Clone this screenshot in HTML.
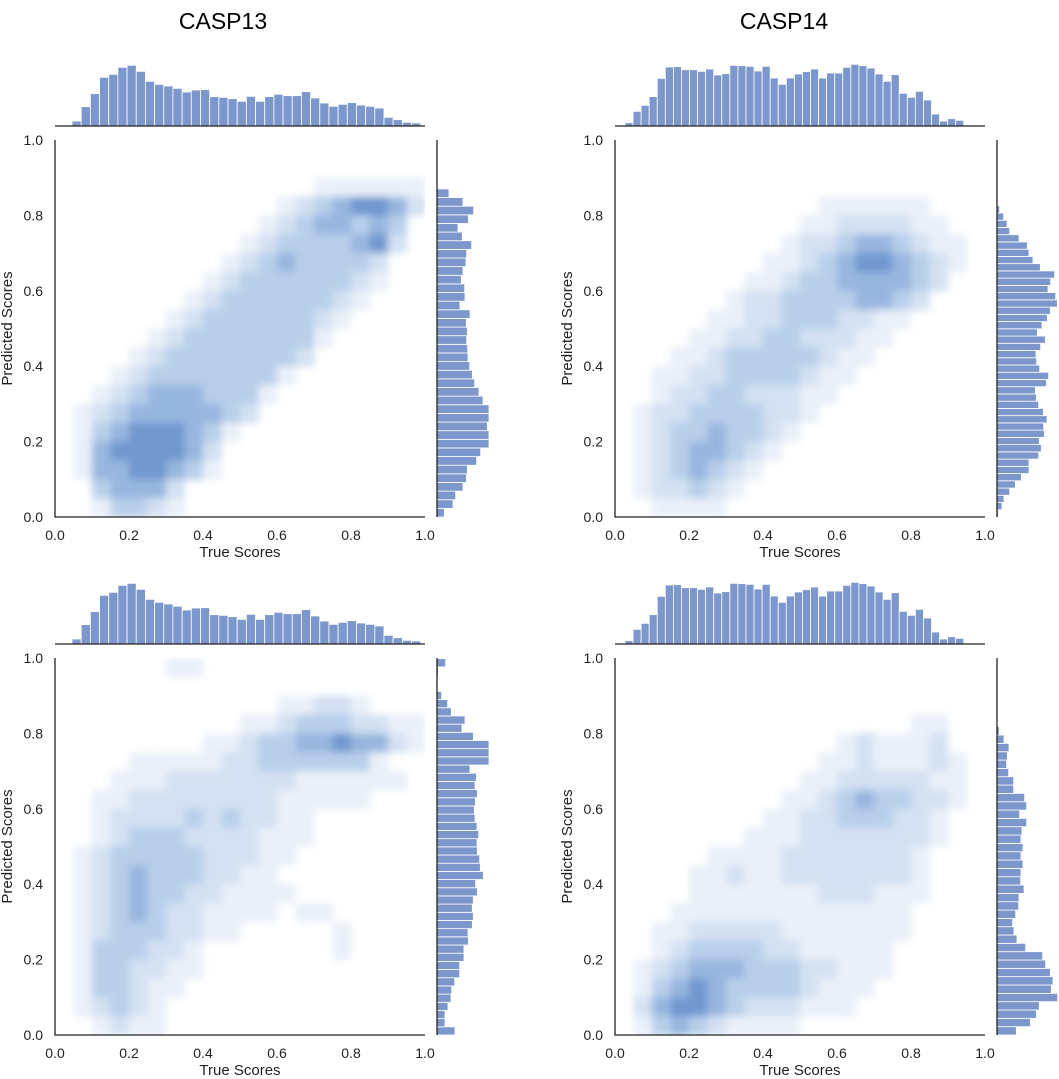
<!DOCTYPE html>
<html><head><meta charset="utf-8">
<style>
html,body{margin:0;padding:0;background:#fff;}
svg{display:block;font-family:"Liberation Sans",sans-serif;}
</style></head>
<body>
<svg id="chart" width="1059" height="1079" viewBox="0 0 1059 1079">
<defs>
<filter id="soft" x="-5%" y="-5%" width="110%" height="110%"><feGaussianBlur stdDeviation="4"/></filter>
</defs>
<text x="223" y="29" font-size="23" text-anchor="middle">CASP13</text>
<text x="784" y="29" font-size="23" text-anchor="middle">CASP14</text>
</svg>
<script>
// ---- density grids (rows from top y=0.95..1.0 down to 0..0.05; 20 columns x=0..1) ----
const densityA = [
"00000000000000000000","00000000000000000000","00000000000000111111","00000000000012345542",
"00000000000123443430","00000000001233334520","00000000012343333200","00000000123333332100",
"00000001233333321000","00000012333333210000","00000123333333100000","00001233333332000000",
"00012333333310000000","00123444333100000000","01234444432000000000","01345554310000000000",
"01455554200000000000","01445543100000000000","00344420000000000000","00133210000000000000"];
const densityB = [
"00000000000000000000","00000000000000000000","00000000000000000000","00000000000111111000",
"00000000001122221100","00000000012234432110","00000000112345543210","00000001123344443200",
"00000012233334432000","00000112233322110000","00001122332221100000","00011233333211000000",
"00112233332110000000","00122332221100000000","01223333221000000000","01233433210000000000",
"01234432100000000000","01234321000000000000","01223210000000000000","00111100000000000000"];
const densityC = [
"00000011000000000000","00000000000000000000","00000000000011221000","00000000001123332211",
"00000000112334454421","00001111122333333100","00011122222221111110","00112222222211111000",
"00122223232211000000","00123332222111000000","01233333222110000000","01234333221100000000",
"01234332211110000000","01234322111101100000","01233322110000010000","01333221000000010000",
"01332211000000000000","01332110000000000000","01232100000000000000","00121100000000000000"];
const densityD = [
"00000000000000000000","00000000000000000000","00000000000000000000","00000000000000001100",
"00000000000012111200","00000000000112111210","00000000001122222110","00000000011234332210",
"00000000112233322100","00000001112222222100","00000111122222221000","00001121122222221000",
"00001111111222111000","00011111111111110000","00112222211111110000","00123333221111100000",
"01234443332211100000","01345433332111000000","02455432221110000000","01343211110000000000"];

// ---- top marginal histograms (true scores) ----
const topCountsA = [15,58,97,146,155,176,182,164,134,125,120,113,102,108,109,88,86,82,74,89,74,88,95,91,91,103,84,69,59,65,70,63,59,54,26,19,11,9];
const topStartA = 0.046, topWidthA = 0.0248;
const topCountsB = [10,44,62,88,143,177,178,169,169,164,171,153,157,182,181,179,165,179,144,125,144,156,163,171,144,159,159,176,185,181,174,156,134,154,98,86,104,78,36,15,22,17];
const topStartB = 0.027, topWidthB = 0.0218;

// ---- right marginal histograms (predicted scores), listed bottom-to-top ----
const rightCountsA = [36,78,110,94,63,76,104,89,87,78,73,83,84,69,99,88,91,89,92,93,98,106,113,126,138,156,156,151,156,156,131,119,91,88,78,56,48,22].reverse();
const rightWidthA = 0.0229;
const rightCountsB = [8,20,30,38,66,91,96,108,130,173,161,153,176,181,160,151,135,121,145,131,117,119,128,155,148,115,118,125,139,150,140,142,127,133,125,96,96,73,55,38,21,15,4].reverse();
const rightWidthB = 0.0192;
const rightCountsC = [26,4,0,0,14,32,43,84,75,109,156,156,156,99,118,114,121,115,112,114,120,125,120,121,128,130,139,116,121,109,106,109,106,93,94,81,81,68,68,53,44,42,33,24,24,54].reverse();
const rightWidthC = 0.0217;
const rightCountsD = [7,21,36,31,29,35,50,50,83,89,68,89,75,72,78,72,78,72,71,81,66,65,56,47,51,60,86,137,146,160,168,163,182,127,118,100,58].reverse();
const rightWidthD = 0.0221;

const tickValues = [0, 0.2, 0.4, 0.6, 0.8, 1.0];
const tickLabels = ["0.0","0.2","0.4","0.6","0.8","1.0"];

const NS = "http://www.w3.org/2000/svg";
const svg = document.getElementById("chart");
const levelColors = ["#ffffff","#e9f0f9","#d3e1f2","#b8cfea","#97b6df","#6f98cf","#4a78bb"];
const BAR = "#7b97cb";

function mk(tag, attrs, parent){
  const e = document.createElementNS(NS, tag);
  for (const k in attrs) e.setAttribute(k, attrs[k]);
  (parent||svg).appendChild(e);
  return e;
}

function panel(id, ox, oy, density, topCounts, topStart, topWidth, rightCounts, rightWidth, ylabX){
  const W = 370, H = 377;
  const xs = v => ox + v*W;
  const ys = v => oy + H - v*H;
  const g = mk("g", {});
  
  

  // clip
  const cp = mk("clipPath", {id: id+"-clip"}, g);
  mk("rect", {x: ox, y: oy, width: W, height: H}, cp);

  // density heatmap
  const hg = mk("g", {"clip-path": "url(#"+id+"-clip)", filter: "url(#soft)"}, g);
  
  
  const nr = density.length;
  for (let r = 0; r < nr; r++){
    const row = density[r];
    for (let c = 0; c < row.length; c++){
      const lv = +row[c];
      if (!lv) continue;
      const y1 = 1 - r/nr, y0 = 1 - (r+1)/nr;
      const x0 = c/row.length, x1 = (c+1)/row.length;
      const cell = mk("rect", {x: xs(x0), y: ys(y1), width: xs(x1)-xs(x0)+0.5, height: ys(y0)-ys(y1)+0.5, fill: levelColors[lv]}, hg);
      
      
    }
  }

  // axes spines
  const sp = mk("path", {d: "M"+ox+" "+oy+" V"+(oy+H)+" H"+(ox+W), stroke: "#222", "stroke-width": 1.3, fill: "none"}, g);
  
  

  // ticks
  for (let i = 0; i < tickValues.length; i++){
    const t = tickValues[i];
    const xl = mk("text", {x: xs(t), y: oy+H+23, "font-size": 14, "text-anchor": "middle", fill: "#222"}, g);
    xl.textContent = tickLabels[i];
    
    
    const yl = mk("text", {x: ox-12, y: ys(t)+5, "font-size": 14, "text-anchor": "end", fill: "#222"}, g);
    yl.textContent = tickLabels[i];
    
    
  }
  const xt = mk("text", {x: ox+W/2, y: oy+H+40, "font-size": 15, "text-anchor": "middle", fill: "#222"}, g);
  xt.textContent = "True Scores";
  
  
  const yt = mk("text", {x: ylabX, y: oy+H/2, "font-size": 15, "text-anchor": "middle", fill: "#222", transform: "rotate(-90 "+ylabX+" "+(oy+H/2)+")"}, g);
  yt.textContent = "Predicted Scores";
  
  

  // top marginal histogram
  const base = oy - 14;
  const tg = mk("g", {}, g);
  
  
  for (let i = 0; i < topCounts.length; i++){
    const x0 = xs(topStart + i*topWidth), x1 = xs(topStart + (i+1)*topWidth);
    const h = topCounts[i]/3;
    const b = mk("rect", {x: x0, y: base-h, width: x1-x0, height: h, fill: BAR, stroke: "#fff", "stroke-width": 0.8}, tg);
    
    
  }
  const tl = mk("line", {x1: ox, x2: ox+W, y1: base, y2: base, stroke: "#222", "stroke-width": 1.3}, tg);
  
  

  // right marginal histogram
  const rx = ox + W + 12;
  const rg = mk("g", {}, g);
  
  
  for (let i = 0; i < rightCounts.length; i++){
    const y0 = ys(i*rightWidth), y1 = ys((i+1)*rightWidth);
    const w = rightCounts[i]/3;
    if (!w) continue;
    const b = mk("rect", {x: rx, y: y1, width: w, height: y0-y1, fill: BAR, stroke: "#fff", "stroke-width": 0.8}, rg);
    
    
  }
  const rl = mk("line", {x1: rx, x2: rx, y1: oy, y2: oy+H, stroke: "#222", "stroke-width": 1.3}, rg);
  
  
}

panel("casp13-top", 55, 140, densityA, topCountsA, topStartA, topWidthA, rightCountsA, rightWidthA, 12);
panel("casp14-top", 615, 140, densityB, topCountsB, topStartB, topWidthB, rightCountsB, rightWidthB, 572);
panel("casp13-bottom", 55, 658, densityC, topCountsA, topStartA, topWidthA, rightCountsC, rightWidthC, 12);
panel("casp14-bottom", 615, 658, densityD, topCountsB, topStartB, topWidthB, rightCountsD, rightWidthD, 572);
</script>
</body></html>
